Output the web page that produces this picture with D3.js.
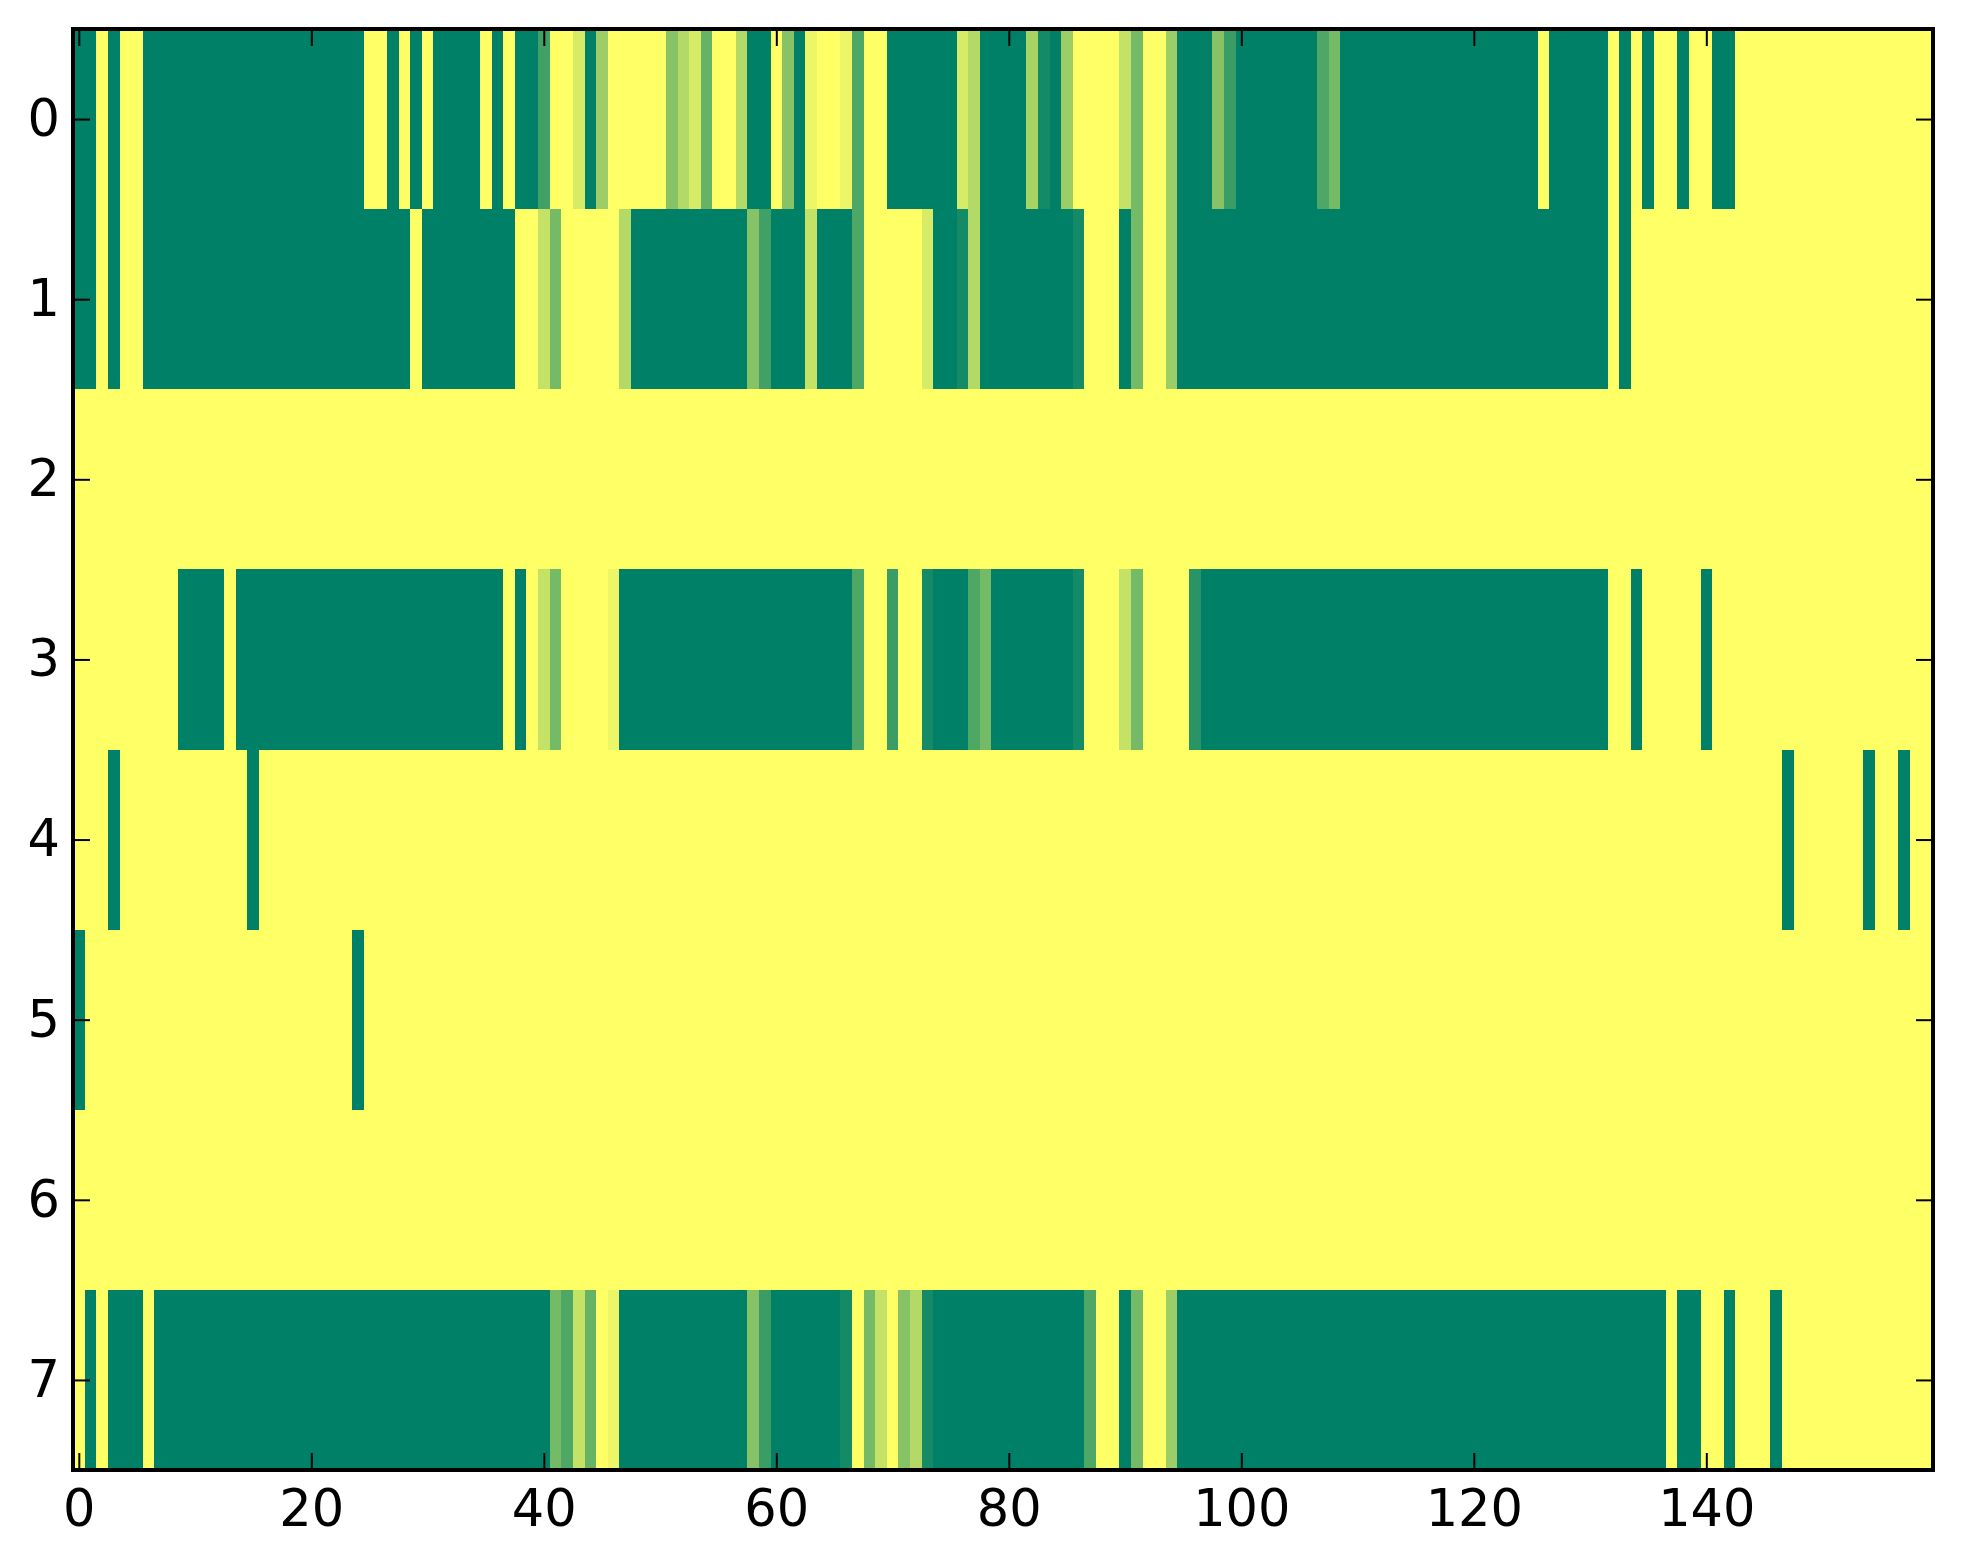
<!DOCTYPE html>
<html>
<head>
<meta charset="utf-8">
<script src="https://cdn.jsdelivr.net/npm/d3@7/dist/d3.min.js"></script>
<style>
  html, body { margin: 0; padding: 0; background: #ffffff; }
  svg { display: block; }
</style>
</head>
<body>
<script>
// ---- data (values 0..1, drawn with matplotlib "summer" colormap) ----
const rowLabels = [0, 1, 2, 3, 4, 5, 6, 7];
const xTickValues = [0, 20, 40, 60, 80, 100, 120, 140];
const nCols = 160;

const row0 = [
  0,0,1,0,1,1,0,0,0,0,
  0,0,0,0,0,0,0,0,0,0,
  0,0,0,0,0,1,1,0,1,0,
  1,0,0,0,0,1,0,1,0,0,
  0.25,1,1,0.84,0,0.61,1,1,1,1,
  1,0.53,0.7,0.84,0.4,1,1,0.7,0,0,
  1,0.53,0,0.93,1,1,0.93,0.31,1,1,
  0,0,0,0,0,0,0.84,0.7,0,0,
  0,0,0.66,0.08,0,0.61,1,1,1,1,
  0.77,0.46,1,1,0.61,0,0,0,0.53,0.23,
  0,0,0,0,0,0,0,0.31,0.46,0,
  0,0,0,0,0,0,0,0,0,0,
  0,0,0,0,0,0,1,0,0,0,
  0,0,1,0,1,0,1,1,0,1,
  1,0,0,1,1,1,1,1,1,1,
  1,1,1,1,1,1,1,1,1,1
];
const row1 = [
  0,0,1,0,1,1,0,0,0,0,
  0,0,0,0,0,0,0,0,0,0,
  0,0,0,0,0,0,0,0,0,1,
  0,0,0,0,0,0,0,0,1,1,
  0.77,0.46,1,1,1,1,1,0.7,0,0,
  0,0,0,0,0,0,0,0,0.53,0.25,
  0,0,0,0.77,0,0,0,0.31,1,1,
  1,1,1,0.84,0,0,0.08,0.7,0,0,
  0,0,0,0,0,0,0.08,1,1,1,
  0,0.46,1,1,0.61,0,0,0,0,0,
  0,0,0,0,0,0,0,0,0,0,
  0,0,0,0,0,0,0,0,0,0,
  0,0,0,0,0,0,0,0,0,0,
  0,0,1,0,1,1,1,1,1,1,
  1,1,1,1,1,1,1,1,1,1,
  1,1,1,1,1,1,1,1,1,1
];
const row2 = [
  1,1,1,1,1,1,1,1,1,1, 1,1,1,1,1,1,1,1,1,1,
  1,1,1,1,1,1,1,1,1,1, 1,1,1,1,1,1,1,1,1,1,
  1,1,1,1,1,1,1,1,1,1, 1,1,1,1,1,1,1,1,1,1,
  1,1,1,1,1,1,1,1,1,1, 1,1,1,1,1,1,1,1,1,1,
  1,1,1,1,1,1,1,1,1,1, 1,1,1,1,1,1,1,1,1,1,
  1,1,1,1,1,1,1,1,1,1, 1,1,1,1,1,1,1,1,1,1,
  1,1,1,1,1,1,1,1,1,1, 1,1,1,1,1,1,1,1,1,1,
  1,1,1,1,1,1,1,1,1,1, 1,1,1,1,1,1,1,1,1,1
];
const row3 = [
  1,1,1,1,1,1,1,1,1,0,
  0,0,0,1,0,0,0,0,0,0,
  0,0,0,0,0,0,0,0,0,0,
  0,0,0,0,0,0,0,1,0,1,
  0.77,0.46,1,1,1,1,0.93,0,0,0,
  0,0,0,0,0,0,0,0,0,0,
  0,0,0,0,0,0,0,0.31,1,1,
  0.23,1,1,0.08,0,0,0,0.31,0.46,0,
  0,0,0,0,0,0,0.08,1,1,1,
  0.77,0.46,1,1,1,1,0.16,0,0,0,
  0,0,0,0,0,0,0,0,0,0,
  0,0,0,0,0,0,0,0,0,0,
  0,0,0,0,0,0,0,0,0,0,
  0,0,1,1,0,1,1,1,1,1,
  0,1,1,1,1,1,1,1,1,1,
  1,1,1,1,1,1,1,1,1,1
];
const row4 = [
  1,1,1,0,1,1,1,1,1,1, 1,1,1,1,1,0,1,1,1,1,
  1,1,1,1,1,1,1,1,1,1, 1,1,1,1,1,1,1,1,1,1,
  1,1,1,1,1,1,1,1,1,1, 1,1,1,1,1,1,1,1,1,1,
  1,1,1,1,1,1,1,1,1,1, 1,1,1,1,1,1,1,1,1,1,
  1,1,1,1,1,1,1,1,1,1, 1,1,1,1,1,1,1,1,1,1,
  1,1,1,1,1,1,1,1,1,1, 1,1,1,1,1,1,1,1,1,1,
  1,1,1,1,1,1,1,1,1,1, 1,1,1,1,1,1,1,1,1,1,
  1,1,1,1,1,1,1,0,1,1, 1,1,1,1,0,1,1,0,1,1
];
const row5 = [
  0,1,1,1,1,1,1,1,1,1, 1,1,1,1,1,1,1,1,1,1,
  1,1,1,1,0,1,1,1,1,1, 1,1,1,1,1,1,1,1,1,1,
  1,1,1,1,1,1,1,1,1,1, 1,1,1,1,1,1,1,1,1,1,
  1,1,1,1,1,1,1,1,1,1, 1,1,1,1,1,1,1,1,1,1,
  1,1,1,1,1,1,1,1,1,1, 1,1,1,1,1,1,1,1,1,1,
  1,1,1,1,1,1,1,1,1,1, 1,1,1,1,1,1,1,1,1,1,
  1,1,1,1,1,1,1,1,1,1, 1,1,1,1,1,1,1,1,1,1,
  1,1,1,1,1,1,1,1,1,1, 1,1,1,1,1,1,1,1,1,1
];
const row6 = [
  1,1,1,1,1,1,1,1,1,1, 1,1,1,1,1,1,1,1,1,1,
  1,1,1,1,1,1,1,1,1,1, 1,1,1,1,1,1,1,1,1,1,
  1,1,1,1,1,1,1,1,1,1, 1,1,1,1,1,1,1,1,1,1,
  1,1,1,1,1,1,1,1,1,1, 1,1,1,1,1,1,1,1,1,1,
  1,1,1,1,1,1,1,1,1,1, 1,1,1,1,1,1,1,1,1,1,
  1,1,1,1,1,1,1,1,1,1, 1,1,1,1,1,1,1,1,1,1,
  1,1,1,1,1,1,1,1,1,1, 1,1,1,1,1,1,1,1,1,1,
  1,1,1,1,1,1,1,1,1,1, 1,1,1,1,1,1,1,1,1,1
];
const row7 = [
  1,0,1,0,0,0,1,0,0,0,
  0,0,0,0,0,0,0,0,0,0,
  0,0,0,0,0,0,0,0,0,0,
  0,0,0,0,0,0,0,0,0,0,
  0,0.46,0.31,0.77,0.4,1,0.93,0,0,0,
  0,0,0,0,0,0,0,0,0.53,0.23,
  0,0,0,0,0,0,0.08,1,0.46,0.77,
  1,0.53,0.7,0.08,0,0,0,0,0,0,
  0,0,0,0,0,0,0,0.31,1,1,
  0,0.46,1,1,0.61,0,0,0,0,0,
  0,0,0,0,0,0,0,0,0,0,
  0,0,0,0,0,0,0,0,0,0,
  0,0,0,0,0,0,0,0,0,0,
  0,0,0,0,0,0,0,1,0,0,
  1,1,0,1,1,1,0,1,1,1,
  1,1,1,1,1,1,1,1,1,1
];
const matrix = [row0, row1, row2, row3, row4, row5, row6, row7];

// ---- layout ----
const W = 1963, H = 1564;
const plotL = 73, plotR = 1933, plotT = 29, plotB = 1470;
const fontSize = 51;
const tickLen = 17;

const svg = d3.select("body").append("svg")
  .attr("width", W).attr("height", H)
  .style("background", "#ffffff");

const x = d3.scaleLinear().domain([-0.5, nCols - 0.5]).range([plotL, plotR]);
const y = d3.scaleLinear().domain([-0.5, rowLabels.length - 0.5]).range([plotT, plotB]);
const color = d3.scaleLinear().domain([0, 1]).range(["#008066", "#ffff66"]).clamp(true);

const cells = [];
matrix.forEach((row, r) => row.forEach((v, c) => cells.push({ r, c, v })));

svg.append("g").selectAll("rect").data(cells).join("rect")
  .attr("x", d => x(d.c - 0.5))
  .attr("y", d => y(d.r - 0.5))
  .attr("width", d => x(d.c + 0.5) - x(d.c - 0.5) + 0.3)
  .attr("height", d => y(d.r + 0.5) - y(d.r - 0.5) + 0.3)
  .attr("fill", d => color(d.v))
  .attr("shape-rendering", "crispEdges");

function styleAxis(g, showText) {
  g.select(".domain").remove();
  g.selectAll(".tick line").attr("stroke", "#000").attr("stroke-width", 2);
  g.selectAll(".tick text")
    .attr("fill", "#000")
    .style("font-family", "'DejaVu Sans', sans-serif")
    .style("font-size", fontSize + "px");
  if (!showText) g.selectAll(".tick text").remove();
}

svg.append("g").attr("transform", `translate(0,${plotB})`)
  .call(d3.axisBottom(x).tickValues(xTickValues).tickFormat(d3.format("d"))
    .tickSizeInner(-tickLen).tickSizeOuter(0).tickPadding(20))
  .call(g => styleAxis(g, true));

svg.append("g").attr("transform", `translate(0,${plotT})`)
  .call(d3.axisTop(x).tickValues(xTickValues).tickSizeInner(-tickLen).tickSizeOuter(0))
  .call(g => styleAxis(g, false));

svg.append("g").attr("transform", `translate(${plotL},0)`)
  .call(d3.axisLeft(y).tickValues(rowLabels).tickFormat(d3.format("d"))
    .tickSizeInner(-tickLen).tickSizeOuter(0).tickPadding(13))
  .call(g => styleAxis(g, true));

svg.append("g").attr("transform", `translate(${plotR},0)`)
  .call(d3.axisRight(y).tickValues(rowLabels).tickSizeInner(-tickLen).tickSizeOuter(0))
  .call(g => styleAxis(g, false));

svg.append("rect")
  .attr("x", plotL).attr("y", plotT)
  .attr("width", plotR - plotL).attr("height", plotB - plotT)
  .attr("fill", "none").attr("stroke", "#000").attr("stroke-width", 4);
</script>
</body>
</html>
